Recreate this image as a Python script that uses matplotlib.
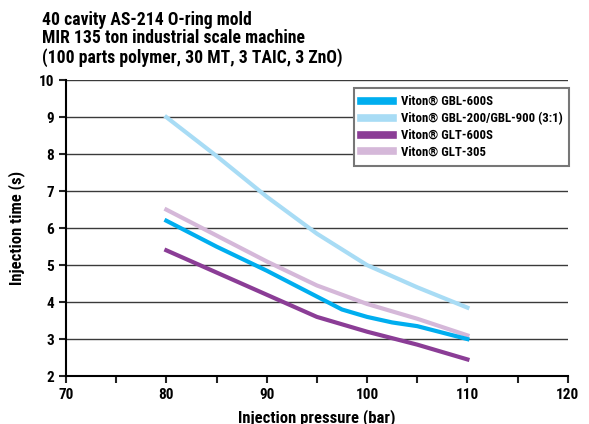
import matplotlib.pyplot as plt
from matplotlib.lines import Line2D

plt.rcParams['font.family'] = ['Roboto Condensed', 'PT Sans Narrow', 'DejaVu Sans']
plt.rcParams['font.weight'] = 'bold'

pressure = [80, 85, 90, 95, 97.5, 100, 102.5, 105, 110]
gbl600s = [6.2, 5.5, 4.85, 4.15, 3.8, 3.6, 3.45, 3.35, 3.0]

pressure_b = [80, 85, 90, 95, 100, 105, 110]
gbl200_900 = [9.0, 7.95, 6.85, 5.85, 5.0, 4.4, 3.85]
glt600s = [5.4, 4.8, 4.2, 3.6, 3.2, 2.85, 2.45]
glt305 = [6.5, 5.8, 5.1, 4.45, 3.95, 3.55, 3.1]

labels = ['Viton\u00ae GBL-600S', 'Viton\u00ae GBL-200/GBL-900 (3:1)',
          'Viton\u00ae GLT-600S', 'Viton\u00ae GLT-305']
colors = ['#00aeef', '#a8dcf5', '#8b3d96', '#d5b8d9']

fig = plt.figure(figsize=(5.89, 4.24), dpi=100)
ax = fig.add_axes([0.112, 0.113, 0.852, 0.698])

for y in range(3, 11):
    ax.axhline(y, color='#3a3a3a', lw=1.0, zorder=1)

ax.plot(pressure_b, gbl200_900, color=colors[1], lw=3, zorder=3)
ax.plot(pressure_b, glt305, color=colors[3], lw=3, zorder=3)
ax.plot(pressure, gbl600s, color=colors[0], lw=3, zorder=4)
ax.plot(pressure_b, glt600s, color=colors[2], lw=3, zorder=4)

ax.set_xlim(70, 120)
ax.set_ylim(2, 10)
ax.set_xticks([70, 80, 90, 100, 110, 120])
ax.set_xticks([75, 85, 95, 105, 115], minor=True)
ax.set_yticks(range(2, 11))
ax.tick_params(axis='both', labelsize=11, width=1.5, length=5, color='#222222')
ax.tick_params(axis='x', which='minor', width=1.5, length=5, color='#222222')
ax.spines['top'].set_visible(False)
ax.spines['right'].set_visible(False)
ax.spines['left'].set_linewidth(1.5)
ax.spines['bottom'].set_linewidth(1.5)
ax.set_xlabel('Injection pressure (bar)', fontsize=12, fontweight='bold', labelpad=5)
ax.set_ylabel('Injection time (s)', fontsize=12, fontweight='bold', labelpad=10)

handles = [Line2D([0], [0], color=c, lw=5.5) for c in colors]
leg = ax.legend(handles, labels, loc='upper right', bbox_to_anchor=(1.003, 0.973),
                fontsize=9.2, frameon=True, fancybox=False, edgecolor='#777777',
                handlelength=2.5, handletextpad=0.6, borderpad=0.55,
                labelspacing=0.3, borderaxespad=0, framealpha=1)
leg.get_frame().set_linewidth(1.5)
leg.set_zorder(5)

fig.text(0.071, 0.975, '40 cavity AS-214 O-ring mold\nMIR 135 ton industrial scale machine\n(100 parts polymer, 30 MT, 3 TAIC, 3 ZnO)',
         fontsize=12.7, fontweight='bold', va='top', ha='left', linespacing=1.05)

fig.savefig('out.png', dpi=100)
